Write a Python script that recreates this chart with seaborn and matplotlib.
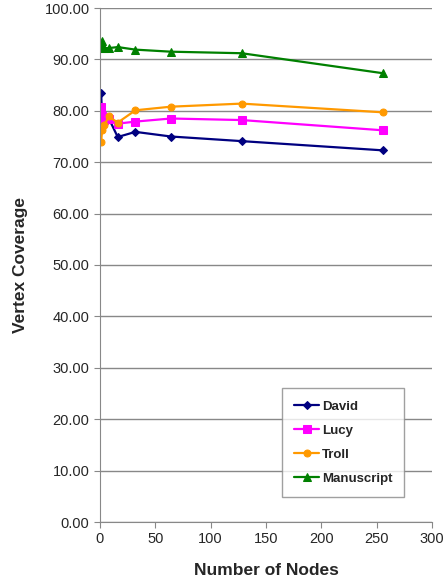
import pandas as pd
import matplotlib
matplotlib.use('Agg')
import matplotlib.pyplot as plt
import seaborn as sns
from matplotlib.ticker import FormatStrFormatter

# data
nodes = [1, 2, 4, 8, 16, 32, 64, 128, 256]
david = [83.5, 78.5, 77.8, 78.5, 74.9, 75.9, 75.0, 74.1, 72.3]
lucy = [80.7, 79.0, 78.3, 78.4, 77.5, 77.9, 78.5, 78.2, 76.2]
troll = [74.0, 76.3, 77.3, 78.9, 77.7, 80.1, 80.8, 81.4, 79.7]
manuscript = [92.3, 93.5, 92.2, 92.2, 92.4, 91.9, 91.5, 91.2, 87.3]

names = ['David', 'Lucy', 'Troll', 'Manuscript']
colors = ['#000080', '#FF00FF', '#FF9900', '#008000']
markers = ['D', 's', 'o', '^']
msizes = [4, 6, 5, 6]

df = pd.DataFrame({'nodes': nodes * 4,
                   'coverage': david + lucy + troll + manuscript,
                   'series': sum([[n] * len(nodes) for n in names], [])})

sns.set_style('white')
plt.rcParams['font.family'] = ['Liberation Sans', 'DejaVu Sans']

fig = plt.figure(figsize=(4.43, 5.84), dpi=100)
ax = fig.add_axes([100 / 443, 62 / 584, 332 / 443, 514 / 584])

for name, c, m, ms in zip(names, colors, markers, msizes):
    sns.lineplot(data=df[df['series'] == name], x='nodes', y='coverage', ax=ax,
                 color=c, marker=m, markersize=ms, markeredgecolor=c,
                 linewidth=1.6, label=name)

ax.set_xlim(0, 300)
ax.set_ylim(0, 100)
ax.set_xticks(range(0, 301, 50))
ax.set_yticks(range(0, 101, 10))
ax.yaxis.set_major_formatter(FormatStrFormatter('%.2f'))
ax.yaxis.grid(True, color='#888888', linewidth=1)
ax.set_axisbelow(True)
for s in ['top', 'right']:
    ax.spines[s].set_visible(False)
for s in ['left', 'bottom']:
    ax.spines[s].set_color('#888888')
ax.tick_params(axis='both', labelsize=10.5, length=4, color='#888888', direction='out',
               bottom=True, left=True)
ax.set_xlabel('Number of Nodes', fontsize=12.5, fontweight='bold', labelpad=12)
ax.set_ylabel('Vertex Coverage', fontsize=12.5, fontweight='bold', labelpad=12)

leg = ax.legend(loc='lower right', bbox_to_anchor=(0.916, 0.049), fontsize=9.5,
                frameon=True, fancybox=False, handlelength=1.9, labelspacing=0.9,
                borderpad=0.9, handletextpad=0.2, borderaxespad=0)
leg.get_frame().set_edgecolor('#888888')
for t in leg.get_texts():
    t.set_fontweight('bold')

plt.savefig('out.png', dpi=100)
